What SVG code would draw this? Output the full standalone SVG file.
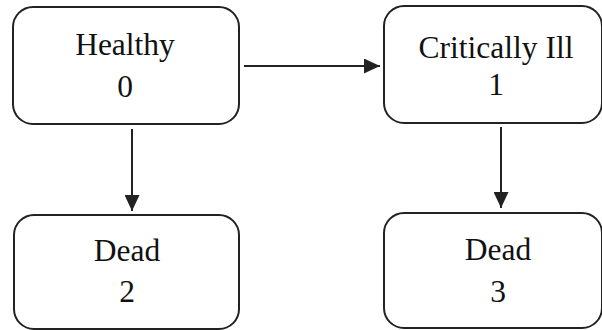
<svg xmlns="http://www.w3.org/2000/svg" width="602" height="330" viewBox="0 0 602 330">
<defs>
<style>
.box{fill:#fff;stroke:#222;stroke-width:2}
.lbl{font-family:"Liberation Serif","Times New Roman",serif;font-size:31.5px;fill:#111;text-anchor:middle}
.edge{stroke:#222;stroke-width:2;fill:none}
</style>
<marker id="ah" viewBox="0 0 16 15" refX="16" refY="7.5" markerWidth="16" markerHeight="15" markerUnits="userSpaceOnUse" orient="auto">
<path d="M0,0 L16,7.5 L0,15 Z" fill="#222"/>
</marker>
</defs>
<rect width="602" height="330" fill="#fff"/>
<g id="node0">
<rect class="box" x="13" y="7" width="226" height="117" rx="20" ry="20"/>
<text class="lbl" x="125" y="55">Healthy</text>
<text class="lbl" x="125" y="97">0</text>
</g>
<g id="node1">
<rect class="box" x="384" y="6" width="218" height="117" rx="20" ry="20"/>
<text class="lbl" x="496" y="58">Critically Ill</text>
<text class="lbl" x="496" y="95">1</text>
</g>
<g id="node2">
<rect class="box" x="14" y="215" width="225" height="114" rx="20" ry="20"/>
<text class="lbl" x="127" y="261">Dead</text>
<text class="lbl" x="127" y="302">2</text>
</g>
<g id="node3">
<rect class="box" x="384" y="213" width="218" height="115" rx="20" ry="20"/>
<text class="lbl" x="498" y="260">Dead</text>
<text class="lbl" x="498" y="302">3</text>
</g>
<g id="connectors">
<line class="edge" x1="244" y1="66" x2="380" y2="66" marker-end="url(#ah)"/>
<line class="edge" x1="132" y1="129" x2="132" y2="211" marker-end="url(#ah)"/>
<line class="edge" x1="501" y1="127" x2="501" y2="208" marker-end="url(#ah)"/>
</g>
</svg>
